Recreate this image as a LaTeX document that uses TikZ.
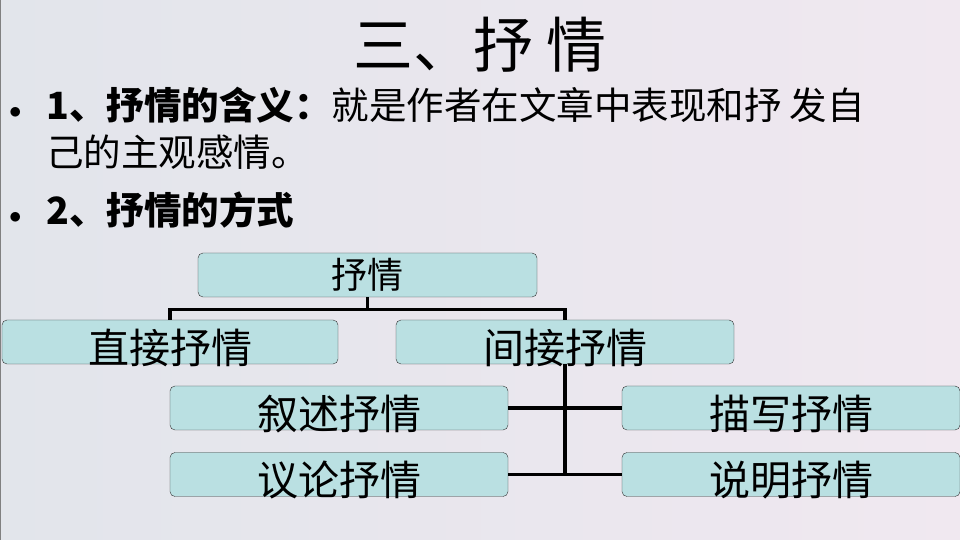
\documentclass[tikz,border=0pt]{standalone}
\usepackage{fontspec}
\setmainfont{Noto Sans CJK SC}
\usepackage{xcolor}
\usetikzlibrary{positioning}
\definecolor{boxfill}{RGB}{186,224,226}
\definecolor{bgleft}{RGB}{226,229,235}
\definecolor{bgright}{RGB}{240,232,240}
\tikzset{
  box/.style={draw=black!80,fill=boxfill,rounded corners=5pt,minimum width=338pt,
    minimum height=44pt,inner sep=0pt,font=\fontsize{41}{41}\selectfont},
  trunk/.style={line width=3.2pt},
  bullet/.style={anchor=west,inner sep=0pt,font=\fontsize{37.5}{37.5}\selectfont},
}
\newcommand{\dotmark}{\makebox[38pt][l]{\hspace{1pt}\raisebox{1pt}{$\bullet$}}}
\newcommand{\low}[1]{\raisebox{-6pt}[\height][\depth]{#1}}
\begin{document}
\begin{tikzpicture}[x=1pt,y=1pt]
\useasboundingbox (0,0) rectangle (960,540);
\shade[left color=bgleft,right color=bgright] (0,0) rectangle (960,540);
\draw[gray,line width=2pt] (0,0) -- (0,540);
% title and bullets
\node (title) at (480,495) {\fontsize{60}{60}\selectfont 三、抒 情};
\node[bullet] (def1) at (8,435) {\dotmark\textbf{1、抒情的含义：}就是作者在文章中表现和抒 发自};
\node[bullet] (def2) at (46,388) {己的主观感情。};
\node[bullet] (way) at (8,330) {\dotmark\textbf{2、抒情的方式}};
% tree
\node[box,minimum width=339pt,font=\fontsize{36}{36}\selectfont] (top) at (367.5,265) {抒情};
\node[box,minimum width=336pt] (direct) at (170,198) {\low{直接抒情}};
\node[box] (indirect) at (565,198) {\low{间接抒情}};
\node[box] (narrate) at (339,132) {\low{叙述抒情}};
\node[box] (describe) at (791,132) {\low{描写抒情}};
\node[box] (discuss) at (339,65.5) {\low{议论抒情}};
\node[box] (explain) at (791,65.5) {\low{说明抒情}};
\draw[trunk] (top.south) -- ++(0,-12) coordinate (split);
\draw[trunk] (split) -| (direct.north);
\draw[trunk] (split) -| (indirect.north);
\draw[trunk] (indirect.south) |- (discuss.east);
\draw[trunk] (indirect.south) |- (explain.west);
\draw[trunk] (narrate.east) -- (describe.west);
\end{tikzpicture}
\end{document}
